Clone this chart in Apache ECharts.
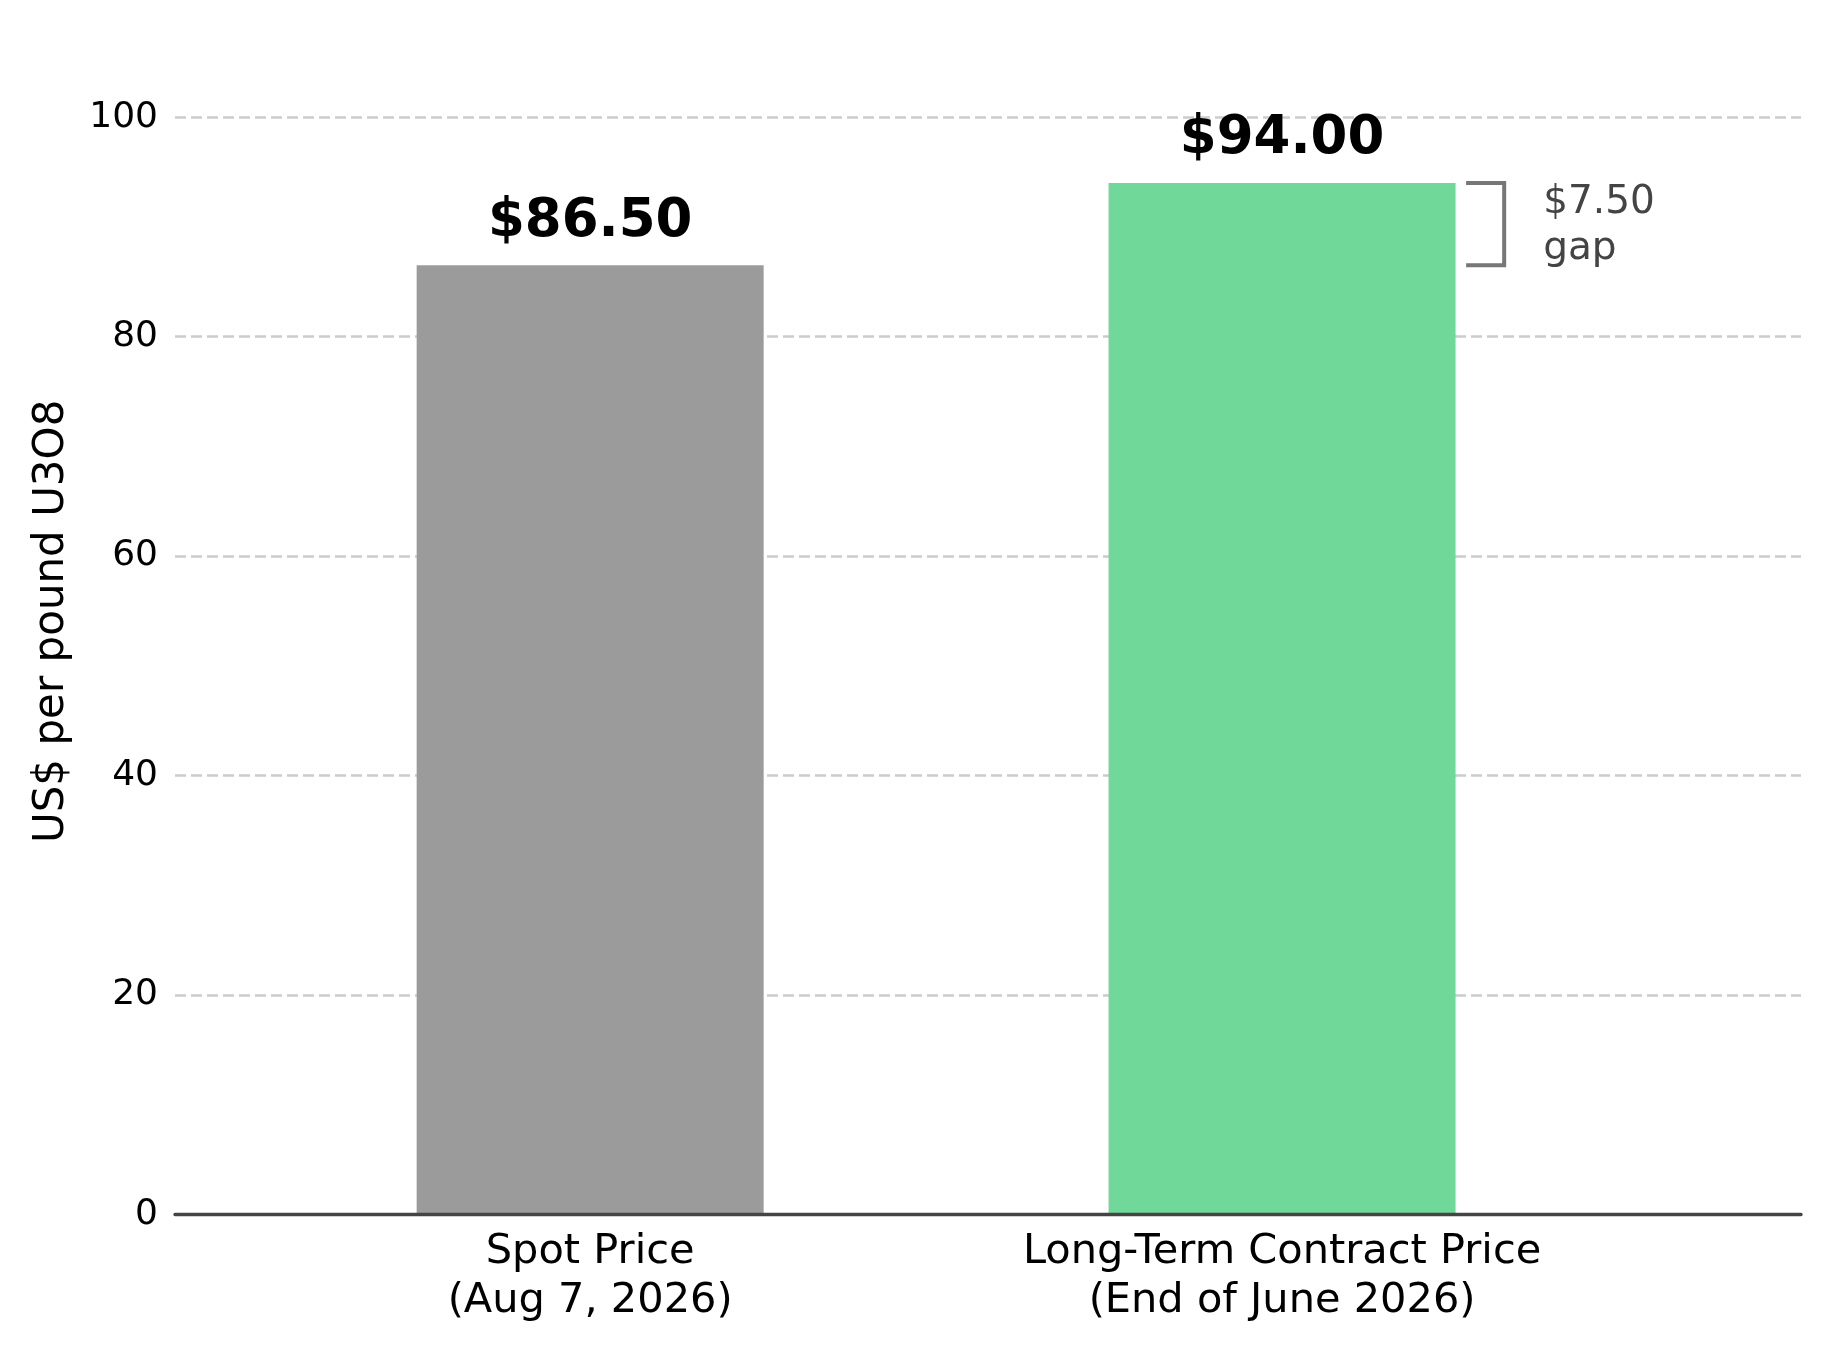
<!DOCTYPE html>
<html>
<head>
<meta charset="utf-8">
<script src="https://cdn.jsdelivr.net/npm/echarts@6/dist/echarts.min.js"></script>
<style>
  html, body { margin: 0; padding: 0; background: #ffffff; }
  #chart { width: 1830px; height: 1349px; }
</style>
</head>
<body>
<div id="chart"></div>
<script>
// ---- data ----
const categories = ['Spot Price\n(Aug 7, 2026)', 'Long-Term Contract Price\n(End of June 2026)'];
const categoryPositions = [0, 1];
const prices = [86.5, 94.0];
const barColors = ['#9b9b9b', '#70d898'];
const yTicks = [0, 20, 40, 60, 80, 100];
const yAxisTitle = 'US$ per pound U3O8';

// ---- derived ----
const gap = prices[1] - prices[0];
const yMax = Math.max(...prices) * 1.15;
const FONT = 'DejaVu Sans';

const barData = prices.map((v, i) => ({
  value: [categoryPositions[i], v],
  itemStyle: { color: barColors[i] }
}));

const chart = echarts.init(document.getElementById('chart'), null, { renderer: 'canvas' });

chart.setOption({
  animation: false,
  backgroundColor: '#ffffff',
  grid: { left: 175, right: 29, top: 28.4, bottom: 134.7, containLabel: false },
  xAxis: {
    type: 'value',
    min: -0.6,
    max: 1.75,
    z: 3,
    axisLine: { show: true, lineStyle: { color: '#444444', width: 3.3 } },
    axisTick: { show: false, customValues: categoryPositions },
    splitLine: { show: false },
    axisLabel: {
      show: true,
      customValues: categoryPositions,
      margin: 13,
      fontFamily: FONT,
      fontSize: 41.5,
      lineHeight: 49,
      color: '#000000',
      formatter: function (v) {
        const i = categoryPositions.indexOf(Math.round(v));
        return i >= 0 ? categories[i] : '';
      }
    }
  },
  yAxis: {
    type: 'value',
    min: 0,
    max: yMax,
    name: yAxisTitle,
    nameLocation: 'middle',
    nameGap: 102,
    nameTextStyle: { fontFamily: FONT, fontSize: 42, color: '#000000' },
    axisLine: { show: false },
    axisTick: { show: false, customValues: yTicks },
    axisLabel: {
      customValues: yTicks,
      margin: 17,
      fontFamily: FONT,
      fontSize: 36,
      color: '#000000'
    },
    splitLine: {
      show: true,
      lineStyle: { color: '#cccccc', width: 2.7, type: [11, 5] }
    }
  },
  series: [
    {
      type: 'bar',
      data: barData,
      barWidth: 347,
      z: 2,
      label: {
        show: true,
        position: 'top',
        distance: 17,
        fontFamily: FONT,
        fontWeight: 'bold',
        fontSize: 53,
        color: '#000000',
        formatter: function (p) { return '$' + p.value[1].toFixed(2); }
      }
    },
    {
      type: 'custom',
      z: 4,
      data: [[prices[0], prices[1]]],
      renderItem: function (params, api) {
        const lo = api.value(0), hi = api.value(1);
        const pTopL = api.coord([1.266, hi]);
        const pTopR = api.coord([1.321, hi]);
        const pBotR = api.coord([1.321, lo]);
        const pBotL = api.coord([1.266, lo]);
        const mid = api.coord([1.321, (lo + hi) / 2]);
        return {
          type: 'group',
          children: [
            {
              type: 'polyline',
              shape: { points: [pTopL, pTopR, pBotR, pBotL] },
              style: { stroke: '#777777', lineWidth: 4, fill: null }
            },
            {
              type: 'text',
              x: pTopR[0] + 39,
              y: mid[1] + 2,
              style: {
                text: '$' + gap.toFixed(2) + '\ngap',
                fontFamily: FONT,
                fontSize: 39,
                lineHeight: 46,
                fill: '#444444',
                align: 'left',
                verticalAlign: 'middle'
              }
            }
          ]
        };
      }
    }
  ]
});
</script>
</body>
</html>
